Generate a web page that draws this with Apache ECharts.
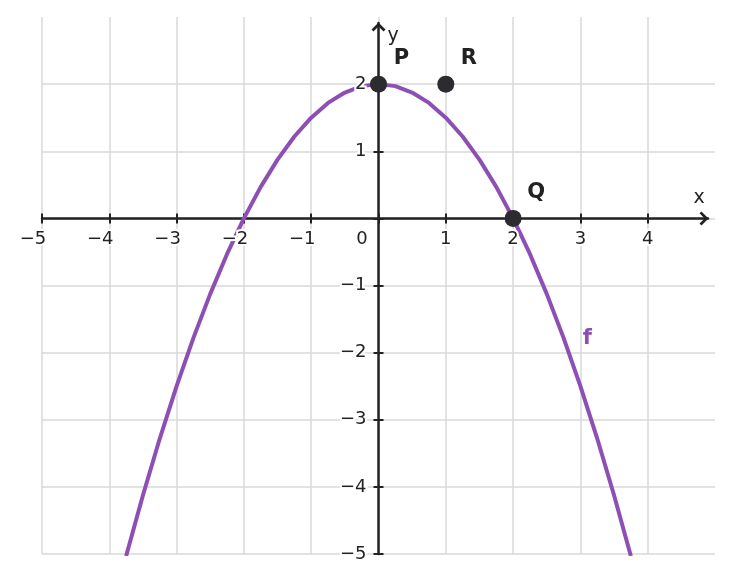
<!DOCTYPE html>
<html>
<head>
<meta charset="utf-8">
<script src="https://cdn.jsdelivr.net/npm/echarts@6/dist/echarts.min.js"></script>
<style>
html,body{margin:0;padding:0;background:#fff;}
#c{width:732px;height:584px;}
</style>
</head>
<body>
<div id="c"></div>
<script>
// ---- data ----
const curveX = [-3.75, -3.5, -3.25, -3, -2.75, -2.5, -2.25, -2, -1.75, -1.5, -1.25, -1, -0.75, -0.5, -0.25, 0,
                0.25, 0.5, 0.75, 1, 1.25, 1.5, 1.75, 2, 2.25, 2.5, 2.75, 3, 3.25, 3.5, 3.75];
const curveY = [-5.03, -4.125, -3.28, -2.5, -1.78, -1.125, -0.53, 0, 0.47, 0.875, 1.22, 1.5, 1.72, 1.875, 1.97, 2,
                1.97, 1.875, 1.72, 1.5, 1.22, 0.875, 0.47, 0, -0.53, -1.125, -1.78, -2.5, -3.28, -4.125, -5.03];
const pointNames = ['P', 'R', 'Q'];
const pointX = [0, 1, 2];
const pointY = [2, 2, 0];
const curveName = 'f';
const curveLabelAt = [3, -2.5];
const xTicks = [-5, -4, -3, -2, -1, 0, 1, 2, 3, 4];
const yTicks = [-5, -4, -3, -2, -1, 0, 1, 2];
const yTickLabels = [-5, -4, -3, -2, -1, 1, 2];
const xName = 'x';
const yName = 'y';

// ---- styling / layout ----
const W = 732, H = 584;
const PL = 42, PR = 715, PT = 17, PB = 554;          // plot box (pixels)
const XMIN = -5, XMAX = 5, YMIN = -5, YMAX = 3;
const X0 = PL + (0 - XMIN) / (XMAX - XMIN) * (PR - PL);   // pixel of x = 0
const Y0 = PT + (YMAX - 0) / (YMAX - YMIN) * (PB - PT);   // pixel of y = 0
const XARROW = 708, YARROW = 23;                      // arrow tips
const XAX_MAX = XMIN + (XARROW - PL) / (PR - PL) * (XMAX - XMIN);
const YAX_MAX = YMIN + (PB - YARROW) / (PB - PT) * (YMAX - YMIN);

const FONT = 'DejaVu Sans';
const INK = '#222222';
const PURPLE = '#8E4FB5';
const GRID = '#d9d9d9';
const CLEAR = 'rgba(0,0,0,0)';
const ARROW = 'path://M50,0 L100,50 L86,64 L50,28 L14,64 L0,50 Z';
const fmtMinus = v => (v < 0 ? '\u2212' + Math.abs(v) : String(v));
const halo = { textBorderColor: '#ffffff', textBorderWidth: 4 };
const tickFont = Object.assign({ color: INK, fontFamily: FONT, fontSize: 18 }, halo);
const tickLine = { color: INK, width: 2 };
const dummy = g => ({ gridIndex: g, type: 'value', show: false, min: 0, max: 1 });

const chart = echarts.init(document.getElementById('c'), null, { renderer: 'canvas' });

const gX = { left: PL, right: W - XARROW, top: PT, bottom: H - Y0 };        // bottom edge on y=0
const gX2 = { left: PL, right: W - XARROW, top: Y0, bottom: H - PB };       // top edge on y=0
const gY = { left: X0, right: W - PR, top: YARROW, bottom: H - PB };        // left edge on x=0
const gY2 = { left: PL, right: W - X0, top: YARROW, bottom: H - PB };       // right edge on x=0

const option = {
  animation: false,
  backgroundColor: '#ffffff',
  grid: [
    { left: PL, right: W - PR, top: PT, bottom: H - PB },  // 0 main
    gX, gX2, gX,                                            // 1,2,3
    gY, gY2, gY                                             // 4,5,6
  ],
  xAxis: [
    { gridIndex: 0, type: 'value', min: XMIN, max: XMAX, interval: 1, z: 0,
      axisLine: { show: false }, axisTick: { show: false }, axisLabel: { show: false },
      splitLine: { show: true, showMaxLine: false, lineStyle: { color: GRID, width: 1.5 } } },
    { gridIndex: 1, type: 'value', position: 'bottom', min: XMIN, max: XAX_MAX, interval: 1, z: 1,
      axisLine: { show: true, onZero: false, symbol: ['none', ARROW], symbolSize: [14, 9], symbolOffset: [0, -4],
                  lineStyle: { color: INK, width: 2.5 } },
      axisTick: { show: true, inside: false, length: 5, customValues: xTicks, lineStyle: tickLine },
      axisLabel: { show: false }, splitLine: { show: false } },
    { gridIndex: 2, type: 'value', position: 'top', min: XMIN, max: XAX_MAX, interval: 1, z: 1,
      axisLine: { show: false, onZero: false },
      axisTick: { show: true, inside: false, length: 5, customValues: xTicks, lineStyle: tickLine },
      axisLabel: { show: false }, splitLine: { show: false } },
    { gridIndex: 3, type: 'value', position: 'bottom', min: XMIN, max: XAX_MAX, interval: 1, z: 10,
      axisLine: { show: false, onZero: false }, axisTick: { show: false }, splitLine: { show: false },
      axisLabel: Object.assign({
        show: true, customValues: xTicks, margin: 12,
        formatter: v => (v < 0 ? '{n|' + fmtMinus(v) + '}' : (v === 0 ? '{z|0}' : String(v))),
        rich: {
          n: Object.assign({ padding: [0, 18, 0, 0] }, tickFont),
          z: Object.assign({ padding: [0, 33, 0, 0] }, tickFont)
        }
      }, tickFont),
      name: xName, nameLocation: 'end', nameGap: -9,
      nameTextStyle: { color: INK, fontFamily: FONT, fontSize: 19, align: 'center', verticalAlign: 'bottom', lineHeight: 40 } },
    dummy(4), dummy(5), dummy(6)
  ],
  yAxis: [
    { gridIndex: 0, type: 'value', min: YMIN, max: YMAX, interval: 1, z: 0,
      axisLine: { show: false }, axisTick: { show: false }, axisLabel: { show: false },
      splitLine: { show: true, showMaxLine: false, lineStyle: { color: GRID, width: 1.5 } } },
    dummy(1), dummy(2), dummy(3),
    { gridIndex: 4, type: 'value', position: 'left', min: YMIN, max: YAX_MAX, interval: 1, z: 1,
      axisLine: { show: true, onZero: false, symbol: ['none', ARROW], symbolSize: [14, 9], symbolOffset: [0, -4],
                  lineStyle: { color: INK, width: 2.5 } },
      axisTick: { show: true, inside: false, length: 5, customValues: yTicks, lineStyle: tickLine },
      axisLabel: { show: false }, splitLine: { show: false } },
    { gridIndex: 5, type: 'value', position: 'right', min: YMIN, max: YAX_MAX, interval: 1, z: 1,
      axisLine: { show: false, onZero: false },
      axisTick: { show: true, inside: false, length: 5, customValues: yTicks, lineStyle: tickLine },
      axisLabel: { show: false }, splitLine: { show: false } },
    { gridIndex: 6, type: 'value', position: 'left', min: YMIN, max: YAX_MAX, interval: 1, z: 10,
      axisLine: { show: false, onZero: false }, axisTick: { show: false }, splitLine: { show: false },
      axisLabel: Object.assign({ show: true, customValues: yTickLabels, margin: 12, formatter: fmtMinus }, tickFont),
      name: yName, nameLocation: 'end', nameGap: -13,
      nameTextStyle: { color: INK, fontFamily: FONT, fontSize: 19, align: 'left', verticalAlign: 'middle', padding: [0, 0, 0, 9] } }
  ],
  series: [
    {
      type: 'line', xAxisIndex: 0, yAxisIndex: 0, z: 2, silent: true,
      data: curveX.map((x, i) => [x, curveY[i]]),
      smooth: false, showSymbol: false,
      lineStyle: { color: PURPLE, width: 4, join: 'round' }
    },
    {
      type: 'scatter', xAxisIndex: 0, yAxisIndex: 0, z: 4, silent: true,
      data: pointX.map((x, i) => ({ name: pointNames[i], value: [x, pointY[i]] })),
      symbolSize: 17,
      itemStyle: { color: '#2b2b30', opacity: 1 },
      label: { show: true, formatter: '{b}', position: 'inside', offset: [23, -26],
               color: INK, fontFamily: FONT, fontWeight: 'bold', fontSize: 21 }
    },
    {
      type: 'scatter', xAxisIndex: 0, yAxisIndex: 0, z: 4, silent: true,
      data: [{ name: curveName, value: curveLabelAt }],
      symbolSize: 1, itemStyle: { color: CLEAR, opacity: 1 },
      label: { show: true, formatter: '{b}', position: 'inside', offset: [7, -48],
               color: PURPLE, fontFamily: FONT, fontWeight: 'bold', fontSize: 21 }
    }
  ]
};
chart.setOption(option);
</script>
</body>
</html>
